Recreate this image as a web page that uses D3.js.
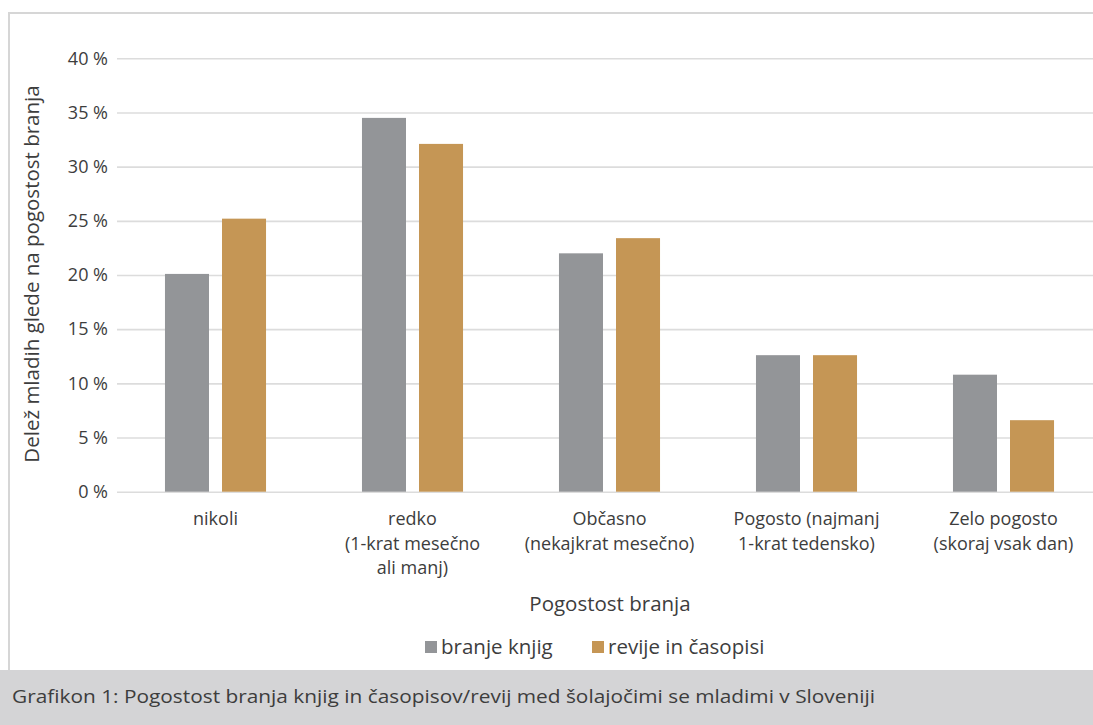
<!DOCTYPE html>
<html lang="sl">
<head>
<meta charset="utf-8">
<script src="https://cdn.jsdelivr.net/npm/d3@7"></script>
<style>
  html, body { margin: 0; padding: 0; background: #ffffff; }
  svg { display: block; }
  text { font-family: "Open Sans", "Noto Sans", sans-serif; fill: #3d3d3d; }
</style>
</head>
<body>
<svg id="chart" width="1093" height="725"></svg>
<script>
// Frequency categories (each label split into its lines)
const categories = [
  ["nikoli"],
  ["redko", "(1-krat mesečno", "ali manj)"],
  ["Občasno", "(nekajkrat mesečno)"],
  ["Pogosto (najmanj", "1-krat tedensko)"],
  ["Zelo pogosto", "(skoraj vsak dan)"]
];
const seriesNames = ["branje knjig", "revije in časopisi"];
// Share of young people (%) per category
const bookValues = [20.1, 34.5, 22.0, 12.6, 10.8];
const magazineValues = [25.2, 32.1, 23.4, 12.6, 6.6];
const yTicks = [0, 5, 10, 15, 20, 25, 30, 35, 40];
const seriesColors = ["#939598", "#c59655"];

const yTitle = "Delež mladih glede na pogostost branja";
const xTitle = "Pogostost branja";
const caption = "Grafikon 1: Pogostost branja knjig in časopisov/revij med šolajočimi se mladimi v Sloveniji";

const svg = d3.select("#chart");
const W = 1093, H = 725;
const FONT = "'Open Sans', 'Noto Sans', sans-serif";

// Plot area
const plot = { left: 117, right: 1102, top: 58.3, bottom: 491.7 };

const catKeys = categories.map(c => c.join(" "));
const x0 = d3.scaleBand().domain(catKeys).range([plot.left, plot.right]).paddingInner(0.487).paddingOuter(0.2435);
const x1 = d3.scaleBand().domain(seriesNames).range([0, x0.bandwidth()]).paddingInner(0.228);
const y = d3.scaleLinear().domain([0, 40]).range([plot.bottom, plot.top]);

// Caption strip at the bottom
svg.append("rect").attr("x", 0).attr("y", 670).attr("width", W).attr("height", H - 670).attr("fill", "#d4d4d6");
svg.append("text").attr("x", 12).attr("y", 703).attr("font-size", 18).attr("textLength", 863).attr("lengthAdjust", "spacingAndGlyphs").text(caption);

// Outer frame (continues past the right edge)
svg.append("path")
  .attr("d", `M9,670 V13 H${W + 10}`)
  .attr("fill", "none").attr("stroke", "#d6d6d6").attr("stroke-width", 2);

// Horizontal gridlines and tick labels
const yAxis = d3.axisLeft(y).tickValues(yTicks).tickSize(-(plot.right - plot.left)).tickPadding(9).tickFormat(d => d + " %");
const gy = svg.append("g").attr("transform", `translate(${plot.left},0)`).call(yAxis);
gy.select(".domain").remove();
gy.selectAll(".tick line").attr("stroke", "#dcdcdc").attr("stroke-width", 1.6);
gy.selectAll(".tick text").attr("font-size", 18).attr("font-family", FONT).attr("fill", "#3d3d3d");

// Bars
const rows = catKeys.map((k, i) => ({ key: k, values: [bookValues[i], magazineValues[i]] }));
const groups = svg.append("g").selectAll("g").data(rows).join("g")
  .attr("transform", d => `translate(${x0(d.key)},0)`);
groups.selectAll("rect").data(d => d.values.map((v, j) => ({ s: seriesNames[j], v, j })))
  .join("rect")
  .attr("x", d => x1(d.s))
  .attr("y", d => y(d.v))
  .attr("width", x1.bandwidth())
  .attr("height", d => y(0) - y(d.v))
  .attr("fill", d => seriesColors[d.j]);

// Category labels
const gx = svg.append("g");
categories.forEach((lines, i) => {
  const cx = x0(catKeys[i]) + x0.bandwidth() / 2;
  const t = gx.append("text")
    .attr("x", cx)
    .attr("y", 525)
    .attr("text-anchor", "middle")
    .attr("font-size", 18);
  lines.forEach((ln, k) => t.append("tspan").attr("x", cx).attr("dy", k === 0 ? 0 : 24.5).text(ln));
});

// Axis titles
svg.append("text").attr("x", 610).attr("y", 611).attr("text-anchor", "middle").attr("font-size", 20.5).text(xTitle);
svg.append("text").attr("transform", `translate(39,${(plot.top + plot.bottom) / 2 - 1}) rotate(-90)`)
  .attr("text-anchor", "middle").attr("font-size", 20.5).text(yTitle);

// Legend
const legendItems = [{ name: seriesNames[0], x: 425 }, { name: seriesNames[1], x: 592 }];
const lg = svg.append("g");
legendItems.forEach((it, i) => {
  lg.append("rect").attr("x", it.x).attr("y", 641).attr("width", 12).attr("height", 12).attr("fill", seriesColors[i]);
  lg.append("text").attr("x", it.x + 16).attr("y", 654).attr("font-size", 20.5).text(it.name);
});
</script>
</body>
</html>
